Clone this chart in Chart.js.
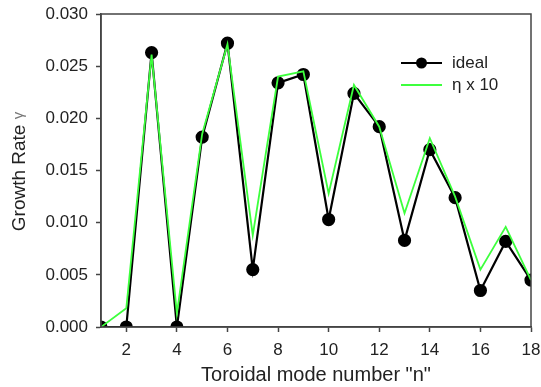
<!DOCTYPE html>
<html>
<head>
<meta charset="utf-8">
<script src="https://cdn.jsdelivr.net/npm/chart.js@4/dist/chart.umd.min.js"></script>
<style>
  html,body{margin:0;padding:0;background:#fff;}
  #wrap{width:541px;height:387px;}
</style>
</head>
<body>
<div id="wrap"><canvas id="c" width="541" height="387"></canvas></div>
<script>
// ---- data ----
const modeNumbers = [1,2,3,4,5,6,7,8,9,10,11,12,13,14,15,16,17,18];
const idealValues = [0,0,0.0263,0,0.0182,0.0272,0.0055,0.0234,0.0242,0.0103,0.0224,0.0192,0.0083,0.0170,0.0124,0.0035,0.0082,0.0045];
const eta10Values = [0,0.0018,0.0261,0.0013,0.0185,0.0271,0.0088,0.0240,0.0245,0.0128,0.0232,0.0192,0.0109,0.0181,0.0125,0.0055,0.0096,0.0045];
const xTicks = [2,4,6,8,10,12,14,16,18];
const yTicks = [0,0.005,0.010,0.015,0.020,0.025,0.030];
const seriesNames = ['ideal', 'η x 10'];
const xTitle = 'Toroidal mode number "n"';
const yTitleMain = 'Growth Rate ';
const yTitleSymbol = 'γ';

const FONT = "'Liberation Sans', Arial, sans-serif";
const TEXT = '#222';

const decor = {
  id: 'decor',
  afterDatasetsDraw(chart) {
    const {ctx, chartArea: a} = chart;
    ctx.save();
    ctx.strokeStyle = '#444';
    ctx.lineWidth = 1.5;
    ctx.strokeRect(a.left, a.top, a.right - a.left, a.bottom - a.top);
    ctx.restore();
  },
  afterDraw(chart) {
    const ctx = chart.ctx;
    const ds = chart.data.datasets;
    const a = chart.chartArea;
    // legend inside plot area
    const x0 = 401, x1 = 442, tx = 452;
    const rows = [63, 85];
    ctx.save();
    ctx.font = '17px ' + FONT;
    ctx.textBaseline = 'middle';
    ctx.textAlign = 'left';
    [0,1].forEach((i) => {
      const d = ds[i];
      const y = rows[i];
      ctx.strokeStyle = d.borderColor;
      ctx.lineWidth = d.borderWidth;
      ctx.beginPath(); ctx.moveTo(x0, y); ctx.lineTo(x1, y); ctx.stroke();
      if (d.pointRadius > 0) {
        ctx.fillStyle = d.pointBackgroundColor;
        ctx.beginPath(); ctx.arc((x0 + x1) / 2, y, d.pointRadius, 0, Math.PI * 2); ctx.fill();
      }
      ctx.fillStyle = TEXT;
      ctx.fillText(d.label, tx, y);
    });
    ctx.restore();

    // y axis title (main text + smaller symbol)
    ctx.save();
    const cy = (a.top + a.bottom) / 2 + 1;
    ctx.translate(20, cy);
    ctx.rotate(-Math.PI / 2);
    ctx.textBaseline = 'middle';
    ctx.font = '19px ' + FONT;
    const w1 = ctx.measureText(yTitleMain).width;
    ctx.font = '15px ' + FONT;
    const w2 = ctx.measureText(yTitleSymbol).width;
    const start = -(w1 + w2) / 2;
    ctx.textAlign = 'left';
    ctx.font = '19px ' + FONT;
    ctx.fillStyle = TEXT;
    ctx.fillText(yTitleMain, start, 0);
    ctx.font = '15px ' + FONT;
    ctx.fillStyle = '#777';
    ctx.fillText(yTitleSymbol, start + w1, -1);
    ctx.restore();
  }
};

new Chart(document.getElementById('c'), {
  type: 'line',
  data: {
    datasets: [
      {
        label: seriesNames[0],
        data: modeNumbers.map((n, i) => ({x: n, y: idealValues[i]})),
        borderColor: '#000',
        backgroundColor: '#000',
        pointBackgroundColor: '#000',
        pointBorderColor: '#000',
        borderWidth: 2.2,
        pointRadius: 5.5,
        pointHoverRadius: 5.5,
        tension: 0,
        order: 2
      },
      {
        label: seriesNames[1],
        data: modeNumbers.map((n, i) => ({x: n, y: eta10Values[i]})),
        borderColor: '#3dff3d',
        backgroundColor: '#3dff3d',
        pointBackgroundColor: '#3dff3d',
        borderWidth: 1.8,
        pointRadius: 0,
        pointHoverRadius: 0,
        tension: 0,
        order: 1
      }
    ]
  },
  options: {
    responsive: false,
    animation: false,
    events: [],
    layout: { padding: { left: 0, right: 10, top: 14, bottom: 0 } },
    plugins: { legend: { display: false }, tooltip: { enabled: false } },
    scales: {
      x: {
        type: 'linear',
        min: 1, max: 18,
        afterFit(s) { s.height = 60; s.paddingLeft = 0; s.paddingRight = 0; },
        afterBuildTicks(s) { s.ticks = xTicks.map(v => ({value: v})); },
        grid: { drawOnChartArea: false, drawTicks: true, tickLength: 5, tickWidth: 1.5, tickColor: '#444' },
        border: { display: true, color: '#444', width: 1.5 },
        ticks: { padding: 8, color: TEXT, font: { family: FONT, size: 17 }, maxRotation: 0, autoSkip: false },
        title: { display: true, text: xTitle, color: TEXT, font: { family: FONT, size: 20 }, padding: { top: 0, bottom: 0 } }
      },
      y: {
        type: 'linear',
        min: 0, max: 0.030,
        afterFit(s) { s.width = 101; s.paddingTop = 0; s.paddingBottom = 0; },
        afterBuildTicks(s) { s.ticks = yTicks.map(v => ({value: v})); },
        grid: { drawOnChartArea: false, drawTicks: true, tickLength: 5, tickWidth: 1.5, tickColor: '#444' },
        border: { display: true, color: '#444', width: 1.5 },
        ticks: { padding: 8, color: TEXT, font: { family: FONT, size: 17 }, callback: v => Number(v).toFixed(3) },
        title: { display: false }
      }
    }
  },
  plugins: [decor]
});
</script>
</body>
</html>
